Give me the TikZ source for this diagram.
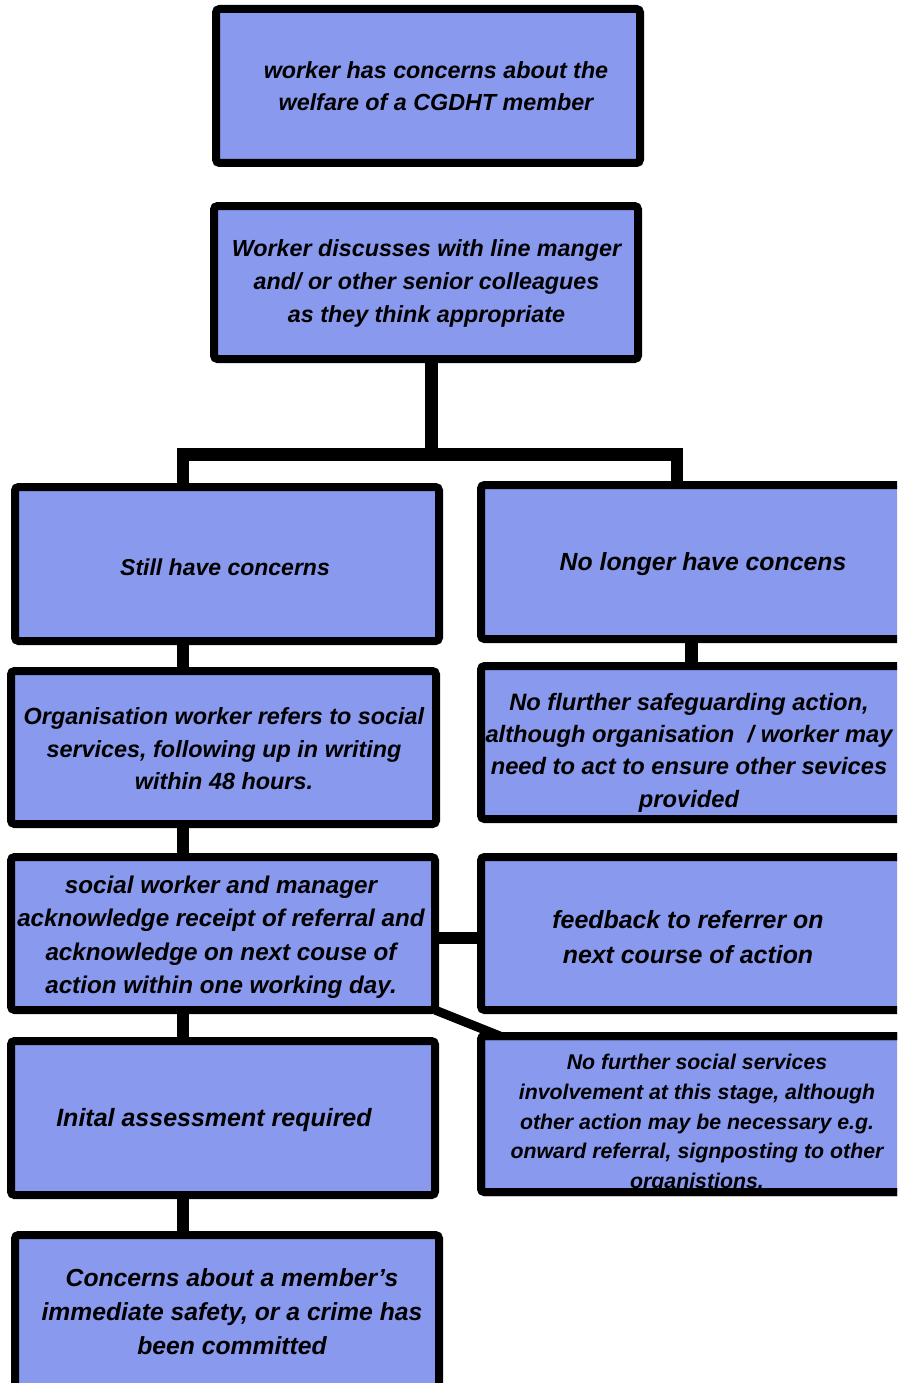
\documentclass[tikz,border=0pt]{standalone}
\usepackage{fontspec}
\setmainfont{Liberation Sans}
\usetikzlibrary{backgrounds}
\definecolor{boxblue}{RGB}{136,153,238}
\tikzset{
  box/.style={draw=black, line width=8pt, fill=boxblue, rounded corners=3.5pt,
    inner sep=0pt, outer sep=0pt, minimum width=424pt, minimum height=154pt},
  boxborder/.style={draw=black, line width=8pt, rounded corners=3.5pt},
  conn/.style={draw=black, line width=12.5pt, line join=miter, line cap=butt},
  diag/.style={draw=black, line width=9pt, line cap=butt},
  txt/.style 2 args={align=center, inner sep=0pt,
    font=\fontsize{#1}{#2}\selectfont\bfseries\itshape,
    execute at begin node=\strut, execute at end node=\strut},
}
\begin{document}
\begin{tikzpicture}[x=1pt,y=-1pt]
\useasboundingbox (0,0) rectangle (897,1383);
\clip (0,0) rectangle (897,1383);

% boxes
\node[box] (b1) at (428,86) {};
\node[box, minimum height=153pt] (b2) at (426,282.5) {};
\node[box] (b3) at (227,564) {};
\node[box, minimum width=450pt] (b4) at (706,562) {};
\node[box, minimum width=425pt, minimum height=153pt] (b5) at (223.5,747.5) {};
\node[box, minimum width=450pt, minimum height=153pt] (b6) at (706,742.5) {};
\node[box, minimum height=153pt] (b7) at (223,933.5) {};
\node[box, minimum width=450pt, minimum height=153pt] (b8) at (706,933.5) {};
\node[box] (b9) at (223,1118) {};
\node[box, minimum width=450pt, minimum height=156pt] (b10) at (706,1114) {};
\node[box, minimum height=200pt] (b11) at (227,1335) {};

% texts
\node[txt={23.3}{32}] (t1) at (436,91.2) {worker has concerns about the\\welfare of a CGDHT member};
\node[txt={23.3}{32.7}] (t2) at (426.5,286) {Worker discusses with line manger\\and/ or other senior colleagues\\as they think appropriate};
\node[txt={23}{32}] (t3) at (225,569) {Still have concerns};
\node[txt={24.8}{33}] (t4) at (703,563.7) {No longer have concens};
\node[txt={23.4}{32.5}] (t5) at (224,753.5) {Organisation worker refers to social\\services, following up in writing\\within 48 hours.};
\node[txt={23.7}{32.3}] (t6) at (689,755) {No flurther safeguarding action,\\although organisation\ \ / worker may\\need to act to ensure other sevices\\provided};
\node[txt={24.2}{33.3}] (t7) at (221,939.8) {social worker and manager\\acknowledge receipt of referral and\\acknowledge on next couse of\\action within one working day.};
\node[txt={24.9}{35}] (t8) at (688,942.5) {feedback to referrer on\\next course of action};
\node[txt={25}{33}] (t9) at (214,1119.7) {Inital assessment required};
\node[txt={21.3}{29.7}] (t10) at (697,1126) {No further social services\\involvement at this stage, although\\other action may be necessary e.g.\\onward referral, signposting to other\\organistions.};
\draw[boxborder] (b10.south west) rectangle (b10.north east);
\node[txt={24.7}{34}] (t11) at (232,1317) {Concerns about a member’s\\immediate safety, or a crime has\\been committed};

% connectors
\begin{pgfonlayer}{background}
\coordinate (jm) at (431.5,454.5);
\coordinate (jl) at (183,454.5);
\coordinate (jr) at (677,454.5);
\coordinate (lx) at (183,0);
\coordinate (rx) at (691.5,0);
\draw[conn] (b2.south -| jm) -- (jm);
\draw[conn] (b3.north -| jl) -- (jl) -- (jr) -- (b4.north -| jr);
\draw[conn] (b3.south -| lx) -- (b5.north -| lx);
\draw[conn] (b5.south -| lx) -- (b7.north -| lx);
\draw[conn] (b7.south -| lx) -- (b9.north -| lx);
\draw[conn] (b9.south -| lx) -- (b11.north -| lx);
\draw[conn] (b4.south -| rx) -- (b6.north -| rx);
\draw[conn] ([yshift=-4.5pt]b7.east) -- ([yshift=-4.5pt]b7.east -| b8.west);
\draw[diag] (b7.south east) -- ([xshift=19pt]b10.north west);
\end{pgfonlayer}
\end{tikzpicture}
\end{document}
